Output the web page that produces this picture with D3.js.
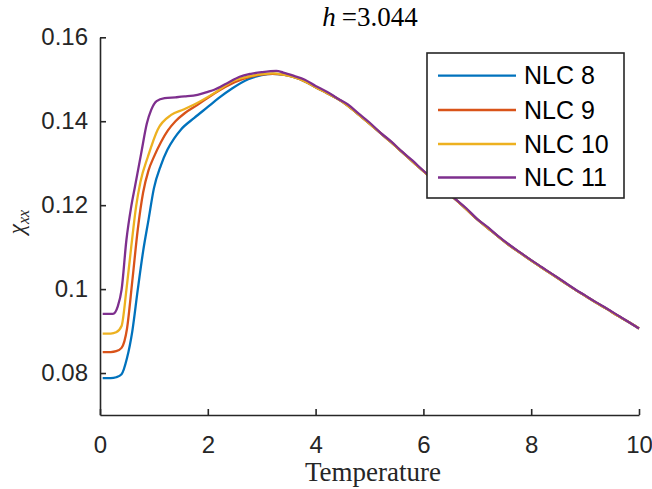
<!DOCTYPE html>
<html>
<head>
<meta charset="utf-8">
<script src="https://cdn.jsdelivr.net/npm/d3@7"></script>
<style>
  html, body { margin: 0; padding: 0; background: #fff; }
  svg { display: block; }
</style>
</head>
<body>
<svg id="chart" width="652" height="489"></svg>
<script>
// ---------------- data ----------------
const seriesNames = ["NLC 8", "NLC 9", "NLC 10", "NLC 11"];
const seriesColors = ["#0072BD", "#D95319", "#EDB120", "#7E2F8E"];

const xTicks = [0, 2, 4, 6, 8, 10];
const yTicks = [0.08, 0.1, 0.12, 0.14, 0.16];
const yTickLabels = ["0.08", "0.1", "0.12", "0.14", "0.16"];

// low-temperature part (individual)
const headT8  = [0.05, 0.1, 0.2, 0.3, 0.4, 0.5, 0.6, 0.7, 0.8, 0.9, 1.0, 1.13, 1.25, 1.38, 1.5, 1.75, 2.0, 2.2, 2.45, 2.75, 3.0, 3.2];
const headV8  = [0.0788, 0.0788, 0.0788, 0.0790, 0.0797, 0.0835, 0.0900, 0.0998, 0.1090, 0.1165, 0.1240, 0.1295, 0.1332, 0.1360, 0.1380, 0.1408, 0.1434, 0.1455, 0.1478, 0.1500, 0.1510, 0.1513];

const headT9  = [0.05, 0.1, 0.2, 0.3, 0.4, 0.5, 0.6, 0.7, 0.8, 0.9, 1.0, 1.13, 1.26, 1.4, 1.57, 1.81, 2.12, 2.5, 2.8, 3.0, 3.2];
const headV9  = [0.0850, 0.0850, 0.0850, 0.0852, 0.0860, 0.0905, 0.1020, 0.1141, 0.1230, 0.1283, 0.1315, 0.1350, 0.1378, 0.1400, 0.1419, 0.1439, 0.1466, 0.1493, 0.1506, 0.1511, 0.1513];

const headT10 = [0.05, 0.1, 0.2, 0.3, 0.4, 0.49, 0.58, 0.67, 0.75, 0.89, 1.07, 1.32, 1.55, 1.75, 2.12, 2.47, 2.8, 3.0, 3.2];
const headV10 = [0.0894, 0.0894, 0.0894, 0.0897, 0.0912, 0.0998, 0.1101, 0.1197, 0.1255, 0.1316, 0.1380, 0.1415, 0.1428, 0.1440, 0.1467, 0.1496, 0.1508, 0.1512, 0.1514];

const headT11 = [0.05, 0.1, 0.24, 0.33, 0.4, 0.49, 0.58, 0.65, 0.765, 0.87, 0.95, 1.05, 1.2, 1.4, 1.57, 1.81, 2.0, 2.12, 2.35, 2.59, 2.8, 3.0, 3.27];
const headV11 = [0.0941, 0.0941, 0.0941, 0.0959, 0.0998, 0.1117, 0.1197, 0.1245, 0.1324, 0.1395, 0.1427, 0.1448, 0.1455, 0.1457, 0.1459, 0.1463, 0.1470, 0.1475, 0.1490, 0.1506, 0.1513, 0.1517, 0.1520];

// high-temperature part (shared by all sizes)
const tailT = [3.4, 3.6, 3.8, 4.0, 4.2, 4.4, 4.6, 4.8, 5.0, 5.2, 5.4, 5.6, 5.8, 6.0, 6.2, 6.4, 6.6, 6.8, 7.0, 7.2, 7.4, 7.6, 7.8, 8.0, 8.2, 8.4, 8.6, 8.8, 9.0, 9.2, 9.4, 9.6, 9.8, 10.0];
const tailV = [0.1511, 0.1505, 0.1495, 0.1481, 0.1468, 0.1454, 0.1437, 0.1416, 0.1394, 0.1372, 0.1350, 0.1327, 0.1304, 0.1281, 0.1258, 0.1236, 0.1213, 0.1190, 0.1166, 0.1145, 0.1124, 0.1104, 0.1086, 0.1068, 0.1051, 0.1034, 0.1017, 0.1000, 0.0984, 0.0968, 0.0953, 0.0937, 0.0922, 0.0906];
const tailV11 = [0.1516, 0.1508, 0.1499, 0.1484, 0.1471, 0.1455, 0.1440, 0.1418, 0.1397, 0.1373, 0.1352, 0.1328, 0.1306, 0.1282, 0.1260, 0.1237, 0.1214, 0.1192, 0.1167, 0.1147, 0.1125, 0.1105, 0.1087, 0.1069, 0.1052, 0.1035, 0.1018, 0.1001, 0.0985, 0.0969, 0.0954, 0.0938, 0.0922, 0.0906];

const titleText = "3.044";

// ---------------- build ----------------
function pairs(ts, vs) { return ts.map((t, i) => ({ t: t, v: vs[i] })); }
const series = [
  pairs(headT8, headV8).concat(pairs(tailT, tailV)),
  pairs(headT9, headV9).concat(pairs(tailT, tailV)),
  pairs(headT10, headV10).concat(pairs(tailT, tailV)),
  pairs(headT11, headV11).concat(pairs(tailT, tailV11))
];

const svg = d3.select("#chart");
const mLeft = 100, mRight = 639, mTop = 37.3, mBottom = 415;

const x = d3.scaleLinear().domain([0, 10]).range([mLeft, mRight]);
const y = d3.scaleLinear().domain([0.07, 0.16]).range([mBottom, mTop]);

const axisColor = "#262626";
const sans = "'Liberation Sans', Arial, Helvetica, sans-serif";
const serif = "'Liberation Serif', 'Times New Roman', serif";

// lines
const line = d3.line().x(d => x(d.t)).y(d => y(d.v)).curve(d3.curveMonotoneX);
svg.append("g").selectAll("path").data(series).join("path")
  .attr("d", line)
  .attr("fill", "none")
  .attr("stroke", (d, i) => seriesColors[i])
  .attr("stroke-width", 2.3)
  .attr("stroke-linejoin", "round");

// axes
const xAxis = svg.append("g").attr("transform", `translate(0,${mBottom})`)
  .call(d3.axisBottom(x).tickValues(xTicks).tickFormat(d3.format("d")).tickSizeInner(-6).tickSizeOuter(0).tickPadding(21));
const yAxis = svg.append("g").attr("transform", `translate(${mLeft},0)`)
  .call(d3.axisLeft(y).tickValues(yTicks).tickFormat((d, i) => yTickLabels[i]).tickSizeInner(-6).tickSizeOuter(0).tickPadding(12));

[xAxis, yAxis].forEach(g => {
  g.select(".domain").attr("stroke", axisColor).attr("stroke-width", 1.6);
  g.selectAll(".tick line").attr("stroke", axisColor).attr("stroke-width", 1.6);
  g.selectAll(".tick text").attr("fill", axisColor).style("font-family", sans).style("font-size", "24px");
});

// title
const title = svg.append("text")
  .attr("x", 370).attr("y", 26)
  .attr("text-anchor", "middle")
  .style("font-family", serif).style("font-size", "27px").attr("fill", "#000");
title.append("tspan").style("font-style", "italic").text("h");
title.append("tspan").attr("dx", 6).text("=" + titleText);

// x label
svg.append("text")
  .attr("x", 373).attr("y", 481)
  .attr("text-anchor", "middle")
  .style("font-family", serif).style("font-size", "27px").attr("fill", "#262626")
  .text("Temperature");

// y label
const yl = svg.append("text")
  .attr("transform", "translate(24,222) rotate(-90)")
  .attr("text-anchor", "middle")
  .style("font-family", serif).style("font-size", "23px").attr("fill", "#262626");
yl.append("tspan").style("font-style", "italic").text("χ");
yl.append("tspan").attr("dy", 5).style("font-size", "16px").style("font-style", "italic").text("xx");

// legend
const lg = svg.append("g");
lg.append("rect")
  .attr("x", 427).attr("y", 53).attr("width", 197).attr("height", 145)
  .attr("fill", "#fff").attr("stroke", axisColor).attr("stroke-width", 1.6);
const rowY = [75.7, 110, 144, 177.5];
seriesNames.forEach((name, i) => {
  lg.append("line").attr("x1", 438).attr("x2", 516).attr("y1", rowY[i]).attr("y2", rowY[i])
    .attr("stroke", seriesColors[i]).attr("stroke-width", 2.3);
  lg.append("text").attr("x", 524).attr("y", rowY[i]).attr("dy", "0.35em")
    .style("font-family", sans).style("font-size", "25px").attr("fill", "#000")
    .text(name);
});
</script>
</body>
</html>
